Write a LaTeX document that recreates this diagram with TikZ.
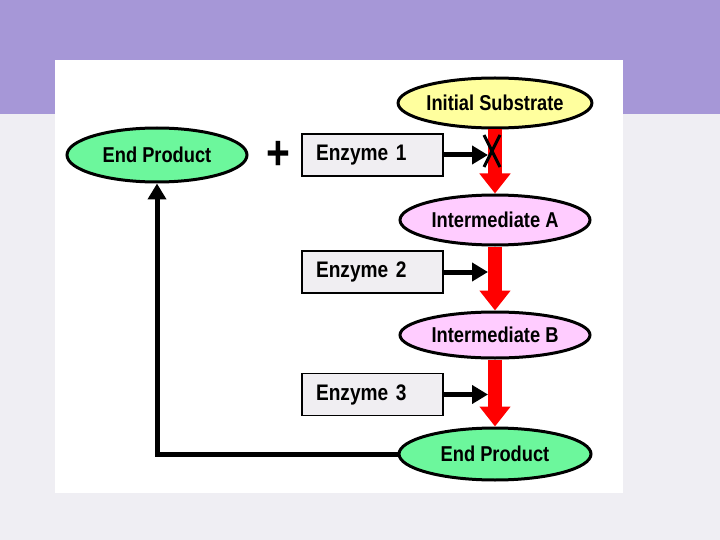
\documentclass[tikz,border=0pt]{standalone}
\usepackage{fontspec}
\setmainfont[FakeStretch=0.85]{Liberation Sans}
\usetikzlibrary{shapes.geometric,arrows.meta}
\definecolor{bandpurple}{HTML}{A697D7}
\definecolor{slidegray}{HTML}{EFEEF3}
\definecolor{substrateyellow}{HTML}{FFFF9E}
\definecolor{productgreen}{HTML}{6CF79C}
\definecolor{interpink}{HTML}{FFCCFF}
\definecolor{enzymegray}{HTML}{F0EEF2}
\tikzset{
  molecule/.style={ellipse, draw, line width=3pt, inner sep=0pt,
    minimum width=190pt, minimum height=50pt,
    font=\bfseries\fontsize{21.5}{24}\selectfont},
  enzyme/.style={draw, line width=1.5pt, fill=enzymegray, inner xsep=14pt,
    text width=113pt, align=left, minimum height=42pt,
    font=\bfseries\fontsize{22.5}{24}\selectfont},
  flow/.style={draw=red, line width=14pt, -{Triangle[width=30pt,length=20pt]}},
  push/.style={line width=5pt, -{Triangle[width=18pt,length=16pt]}}
}
\begin{document}
\begin{tikzpicture}[x=1pt,y=-1pt]
% slide background
\fill[slidegray] (0,0) rectangle (720,540);
\fill[bandpurple] (0,0) rectangle (720,114);
\fill[white] (55,60) rectangle (623,493);
\useasboundingbox (0,0) rectangle (720,540);
% pathway
\node[molecule, fill=substrateyellow] (sub) at (495,103) {Initial Substrate};
\node[molecule, fill=interpink] (intA) at (495,220) {Intermediate A};
\node[molecule, fill=interpink, minimum height=46pt] (intB) at (495,335) {Intermediate B};
\node[molecule, fill=productgreen, minimum width=192pt, minimum height=52pt] (endB) at (495,454) {End Product};
\node[molecule, fill=productgreen, minimum width=180pt, minimum height=54pt] (endA) at (157,155) {End Product};
\node[font=\bfseries\fontsize{48}{48}\selectfont] (plus) at (278,155) {+};
\node[enzyme] (enz1) at (372.5,155) {Enzyme 1};
\node[enzyme] (enz2) at (372.5,272) {Enzyme 2};
\node[enzyme] (enz3) at (372.5,394.5) {Enzyme 3};
\draw[flow] (sub.south) -- (intA.north);
\draw[flow] (intA.south) -- (intB.north);
\draw[flow] (intB.south) -- (endB.north);
\draw[push, shorten >=7pt] (enz1.east) -- (enz1.east -| sub.south);
\draw[push, shorten >=7pt] (enz2.east) -- (enz2.east -| intA.south);
\draw[push, shorten >=7pt] (enz3.east) -- (enz3.east -| intB.south);
% inhibition mark
\coordinate (block) at (492,151);
\draw[line width=3pt] (block) ++(-8,-16) -- ++(16,32) (block) ++(8,-16) -- ++(-16,32);
% feedback
\draw[push] (endB.west) -| (endA.south);
\end{tikzpicture}
\end{document}
